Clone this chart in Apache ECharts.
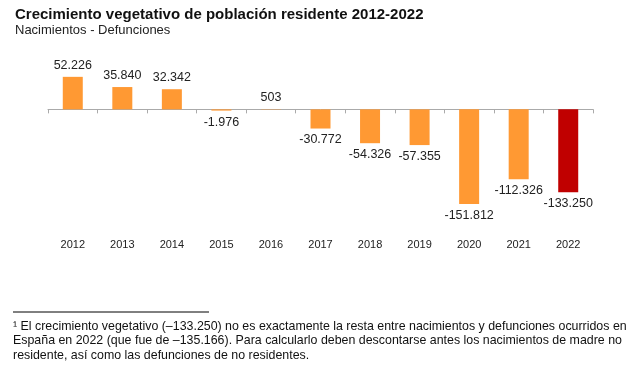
<!DOCTYPE html>
<html><head><meta charset="utf-8">
<script src="https://cdn.jsdelivr.net/npm/echarts@6/dist/echarts.min.js"></script>
<style>html,body{margin:0;padding:0;background:#fff}#c{width:640px;height:366px}</style>
</head><body><div id="c"></div>
<script>
var categories = ['2012','2013','2014','2015','2016','2017','2018','2019','2020','2021','2022'];
var values = [52226, 35840, 32342, -1976, 503, -30772, -54326, -57355, -151812, -112326, -133250];
var highlightYear = '2022';

function fmt(v){
  var s = Math.abs(v).toString().replace(/\B(?=(\d{3})+(?!\d))/g, '.');
  return (v < 0 ? '-' : '') + s;
}
var FONT = '"Liberation Sans", Arial, sans-serif';
var chart = echarts.init(document.getElementById('c'));
chart.setOption({
  animation: false,
  backgroundColor: '#fff',
  title: [
    {text: 'Crecimiento vegetativo de población residente 2012-2022', left: 15, top: 7, padding: 0,
     textStyle: {fontFamily: FONT, fontSize: 15, fontWeight: 'bold', color: '#111'}},
    {text: 'Nacimientos - Defunciones', left: 15, top: 24, padding: 0,
     textStyle: {fontFamily: FONT, fontSize: 13, fontWeight: 'normal', color: '#222'}}
  ],
  grid: {left: 48, right: 47, top: 72, bottom: 157},
  xAxis: [
    {type: 'category', data: categories, gridIndex: 0,
     axisLine: {onZero: true, lineStyle: {color: '#aaa', width: 1}},
     axisTick: {show: true, length: 4, lineStyle: {color: '#aaa'}},
     axisLabel: {show: false}},
    {type: 'category', data: categories, gridIndex: 0, position: 'bottom',
     axisLine: {show: false, onZero: false}, axisTick: {show: false},
     axisLabel: {margin: 30, fontFamily: FONT, fontSize: 11, color: '#222'}}
  ],
  yAxis: {type: 'value', min: -160000, max: 60000, show: false, splitLine: {show: false}},
  series: [{
    type: 'bar', xAxisIndex: 0, barWidth: 20,
    data: values.map(function(v, i){
      return {value: v,
        itemStyle: {color: categories[i] === highlightYear ? '#C00000' : '#FF9933'},
        label: {position: v >= 0 ? 'top' : 'bottom'}};
    }),
    label: {show: true, distance: 5, fontFamily: FONT, fontSize: 12.5, color: '#222',
      formatter: function(p){ return fmt(p.value); }}
  }],
  graphic: [
    {type: 'line', shape: {x1: 13, y1: 312, x2: 209, y2: 312}, style: {stroke: '#000', lineWidth: 1}},
    {type: 'text', left: 13, top: 319, style: {
      text: '¹ El crecimiento vegetativo (–133.250) no es exactamente la resta entre nacimientos y defunciones ocurridos en\nEspaña en 2022 (que fue de –135.166). Para calcularlo deben descontarse antes los nacimientos de madre no\nresidente, así como las defunciones de no residentes.',
      font: '12.4px "Liberation Sans", Arial, sans-serif', fill: '#111', lineHeight: 14.5}}
  ]
});
</script></body></html>
